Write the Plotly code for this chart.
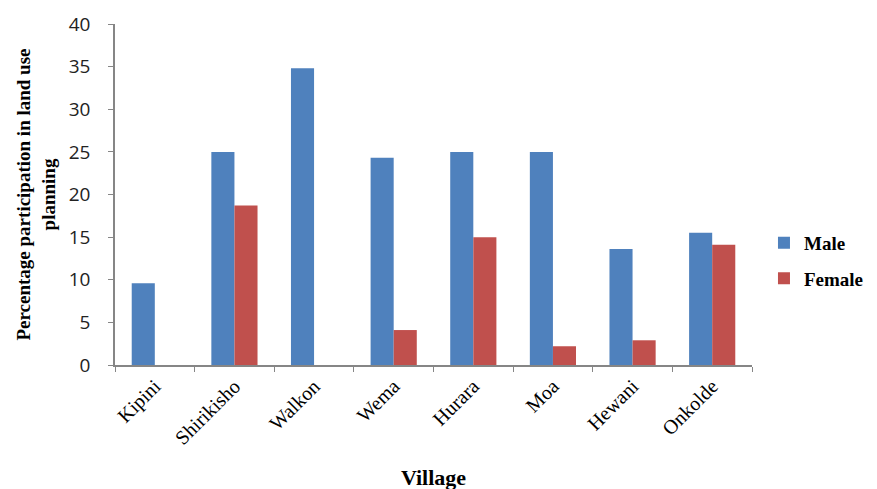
import plotly.graph_objects as go

villages = ["Kipini", "Shirikisho", "Walkon", "Wema", "Hurara", "Moa", "Hewani", "Onkolde"]
male = [9.6, 25.0, 34.8, 24.3, 25.0, 25.0, 13.6, 15.5]
female = [0, 18.7, 0, 4.1, 15.0, 2.2, 2.9, 14.1]
y_ticks = [0, 5, 10, 15, 20, 25, 30, 35, 40]

serif = "Liberation Serif, Times New Roman, serif"
fig = go.Figure()
fig.add_trace(go.Bar(x=villages, y=male, name="<b>Male</b>", legendgroup="m",
                     marker=dict(color="#4F81BD", line=dict(width=0))))
fig.add_trace(go.Bar(x=villages, y=female, name="<b>Female</b>", legendgroup="f",
                     marker=dict(color="#C0504D", line=dict(width=0))))

fig.update_layout(
    width=877, height=489,
    margin=dict(l=107, r=133, t=16, b=132),
    paper_bgcolor="white", plot_bgcolor="white",
    barmode="group", bargap=0.42, bargroupgap=0,
    showlegend=True,
    legend=dict(xref="container", yref="container", x=0.862, y=0.483,
                xanchor="left", yanchor="middle",
                font=dict(family=serif, size=19, color="#000000"),
                itemwidth=30, tracegroupgap=8),
    xaxis=dict(
        type="category", tickson="boundaries", ticks="outside", ticklen=5,
        tickcolor="#868686", showline=True, linecolor="#868686", linewidth=1.5,
        tickangle=-45, tickfont=dict(family=serif, size=20, color="#000000"),
        title=dict(text="<b>Village</b>", font=dict(family=serif, size=22, color="#000000"), standoff=22),
        showgrid=False, automargin=False,
    ),
    yaxis=dict(
        range=[0, 40], tickvals=y_ticks, ticks="outside", ticklen=5, tickcolor="#868686",
        showline=True, linecolor="#868686", linewidth=1.5, showgrid=False, zeroline=False,
        tickfont=dict(family="Open Sans, sans-serif", size=19, color="#222222"),
        ticklabelstandoff=14, automargin=False,
        title=dict(text="<b>Percentage participation in land use<br>planning</b>",
                   font=dict(family=serif, size=19, color="#000000"), standoff=8),
    ),
)
fig.write_html("out.html")
